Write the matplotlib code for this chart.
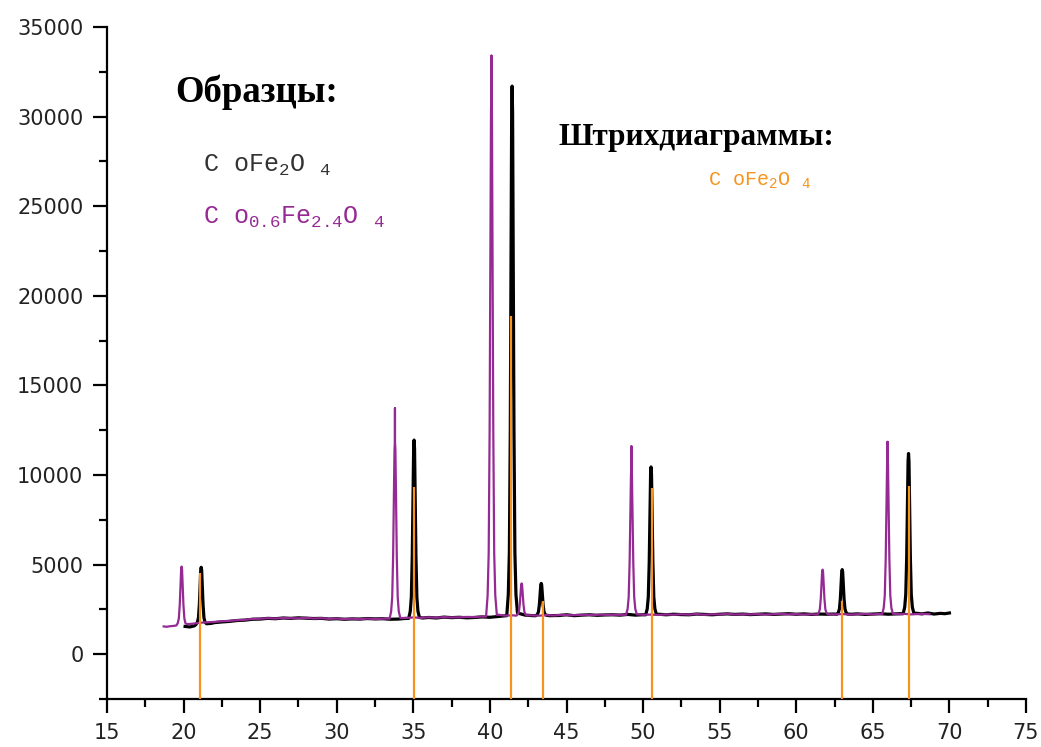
import numpy as np
import matplotlib
matplotlib.use('Agg')
import matplotlib.pyplot as plt

plt.rcParams['mathtext.default'] = 'regular'

# CoFe2O4 sample (black)
cofe_x = [20.1, 20.4, 20.7,
          20.8, 20.9, 20.97, 21.03, 21.08, 21.12, 21.15, 21.18, 21.22, 21.27, 21.33, 21.4, 21.5,
          21.8, 22.0, 22.5, 23.0, 23.5, 24.0, 24.5, 25.0, 25.5, 26.0, 26.5, 27.0, 27.5,
          28.0, 28.5, 29.0, 29.5, 30.0, 30.5, 31.0, 31.5, 32.0, 32.5, 33.0, 33.5, 34.0, 34.4,
          34.7, 34.8, 34.87, 34.93, 34.98, 35.02, 35.05, 35.08, 35.12, 35.17, 35.23, 35.3, 35.4,
          35.6, 36.0, 36.5, 37.0, 37.5, 38.0, 38.5, 39.0, 39.5, 40.0, 40.5,
          41.1, 41.2, 41.27, 41.33, 41.38, 41.42, 41.45, 41.48, 41.52, 41.57, 41.63, 41.7, 41.8,
          42.3, 42.8,
          43.0, 43.1, 43.17, 43.23, 43.28, 43.32, 43.35, 43.38, 43.42, 43.47, 43.53, 43.6, 43.7,
          43.9, 44.5, 45.0, 45.5, 46.0, 46.5, 47.0, 47.5, 48.0, 48.5, 49.0, 49.5, 49.9,
          50.17, 50.27, 50.34, 50.4, 50.45, 50.49, 50.52, 50.55, 50.59, 50.64, 50.7, 50.77, 50.87,
          51.2, 51.5, 52.0, 52.5, 53.0, 53.5, 54.0, 54.5, 55.0, 55.5, 56.0, 56.5, 57.0,
          57.5, 58.0, 58.5, 59.0, 59.5, 60.0, 60.5, 61.0, 61.5, 62.0, 62.4,
          62.65, 62.75, 62.82, 62.88, 62.93, 62.97, 63.0, 63.03, 63.07, 63.12, 63.18, 63.25, 63.35,
          63.6, 64.0, 64.5, 65.0, 65.5, 66.0, 66.5, 66.8,
          66.98, 67.08, 67.15, 67.21, 67.26, 67.3, 67.33, 67.36, 67.4, 67.45, 67.51, 67.58, 67.68,
          67.9, 68.2, 68.6, 69.0, 69.4, 69.7, 70.0]
cofe_y = [1550, 1520, 1580,
          1650, 1780, 2030, 2770, 3890, 4690, 4850, 4690, 3890, 2770, 2030, 1780, 1700,
          1720, 1760, 1800, 1830, 1880, 1900, 1950, 1960, 2000, 1980, 2020, 2000, 2030,
          2010, 1990, 2000, 1960, 1980, 1950, 1970, 1960, 1990, 1970, 1980, 1950, 1960, 1990,
          2000, 2400, 3190, 5480, 8970, 11450, 11950, 11450, 8970, 5480, 3190, 2400, 2050,
          2020, 2050, 2020, 2070, 2040, 2060, 2030, 2050, 2080, 2060, 2100,
          2150, 3330, 5700, 12490, 22840, 30220, 31700, 30220, 22840, 12490, 5700, 3330, 2300,
          2180, 2150,
          2150, 2220, 2370, 2780, 3410, 3860, 3950, 3860, 3410, 2780, 2370, 2220, 2170,
          2150, 2160, 2200, 2150, 2180, 2200, 2170, 2190, 2200, 2180, 2220, 2180, 2200,
          2200, 2530, 3190, 5090, 7980, 10040, 10450, 10040, 7980, 5090, 3190, 2530, 2230,
          2220, 2200, 2230, 2210, 2200, 2240, 2220, 2200, 2230, 2250, 2220, 2240, 2210,
          2230, 2250, 2220, 2240, 2260, 2230, 2250, 2220, 2240, 2230, 2240,
          2230, 2330, 2530, 3100, 3970, 4600, 4720, 4600, 3970, 3100, 2530, 2330, 2240,
          2230, 2250, 2220, 2240, 2260, 2230, 2250, 2260,
          2260, 2620, 3330, 5390, 8520, 10750, 11200, 10750, 8520, 5390, 3330, 2620, 2290,
          2280, 2250, 2300, 2240, 2280, 2260, 2300]

# Co0.6Fe2.4O4 sample (purple)
co06_x = [18.7, 18.9, 19.1, 19.35,
          19.52, 19.62, 19.69, 19.75, 19.8, 19.84, 19.87, 19.9, 19.94, 19.99, 20.05, 20.12, 20.22,
          20.6, 21.0, 21.5, 22.0, 22.5, 23.0, 23.5, 24.0, 24.5, 25.0, 25.5, 26.0, 26.5,
          27.0, 27.5, 28.0, 28.5, 29.0, 29.5, 30.0, 30.5, 31.0, 31.5, 32.0, 32.5, 33.0, 33.3,
          33.45, 33.55, 33.62, 33.68, 33.73, 33.77, 33.8, 33.8, 33.8, 33.83, 33.87, 33.92, 33.98,
          34.05, 34.15,
          34.5, 35.0, 35.5, 36.0, 36.5, 37.0, 37.5, 38.0, 38.5, 39.0, 39.4,
          39.75, 39.85, 39.92, 39.98, 40.03, 40.07, 40.1, 40.1, 40.1, 40.13, 40.17, 40.22, 40.28,
          40.35, 40.45,
          40.6, 41.0, 41.5,
          41.72, 41.82, 41.89, 41.95, 42.0, 42.04, 42.07, 42.1, 42.14, 42.19, 42.25, 42.32, 42.42,
          42.7, 43.2, 43.7, 44.2, 44.7, 45.2, 45.7, 46.2, 46.7, 47.2, 47.7, 48.2, 48.6,
          48.89, 48.99, 49.06, 49.12, 49.17, 49.21, 49.24, 49.24, 49.24, 49.27, 49.31, 49.36, 49.42,
          49.49, 49.59,
          50.0, 50.5, 51.0, 51.5, 52.0, 52.5, 53.0, 53.5, 54.0, 54.5, 55.0, 55.5, 56.0,
          56.5, 57.0, 57.5, 58.0, 58.5, 59.0, 59.5, 60.0, 60.5, 61.0,
          61.37, 61.47, 61.54, 61.6, 61.65, 61.69, 61.72, 61.75, 61.79, 61.84, 61.9, 61.97, 62.07,
          62.5, 63.0, 63.5, 64.0, 64.5, 65.0, 65.3,
          65.61, 65.71, 65.78, 65.84, 65.89, 65.93, 65.96, 65.96, 65.96, 65.99, 66.03, 66.08, 66.14,
          66.21, 66.31,
          66.7, 67.1, 67.5, 67.9, 68.3, 68.7]
co06_y = [1550, 1530, 1560, 1580,
          1600, 1730, 2000, 2750, 3900, 4730, 4890, 4730, 3900, 2750, 2000, 1730, 1680,
          1700, 1750, 1780, 1800, 1840, 1860, 1900, 1920, 1970, 1980, 2010, 1990, 2020,
          2010, 2000, 2030, 1990, 2010, 1970, 1990, 1960, 1980, 1950, 1990, 1960, 1980, 1990,
          1980, 2380, 3170, 5450, 8920, 11400, 11900, 13720, 11900, 11400, 8920, 5450, 3170,
          2380, 2020,
          2020, 2050, 2030, 2060, 2040, 2070, 2050, 2060, 2080, 2070, 2100,
          2100, 3280, 5650, 12460, 22820, 30220, 31700, 33400, 31700, 30220, 22820, 12460, 5650,
          3280, 2200,
          2200, 2150, 2170,
          2150, 2220, 2370, 2780, 3410, 3860, 3950, 3860, 3410, 2780, 2370, 2220, 2170,
          2170, 2150, 2180, 2160, 2200, 2170, 2190, 2200, 2180, 2210, 2190, 2200, 2200,
          2200, 2530, 3190, 5090, 7980, 10040, 10450, 11600, 10450, 10040, 7980, 5090, 3190,
          2530, 2230,
          2200, 2210, 2190, 2220, 2200, 2230, 2210, 2240, 2200, 2230, 2220, 2260, 2210,
          2230, 2220, 2240, 2210, 2230, 2250, 2220, 2240, 2210, 2230,
          2210, 2310, 2510, 3090, 3970, 4600, 4720, 4600, 3970, 3090, 2510, 2310, 2230,
          2220, 2240, 2210, 2230, 2250, 2220, 2240,
          2230, 2580, 3280, 5300, 8370, 10560, 11000, 11850, 11000, 10560, 8370, 5300, 3280,
          2580, 2260,
          2230, 2250, 2220, 2240, 2250, 2230]

# reference stick diagram CoFe2O4 (orange)
stick_x = [21.1, 35.05, 41.4, 43.47, 50.6, 62.98, 67.33]
stick_h = [4550, 9350, 18850, 2950, 9300, 2980, 9400]

fig = plt.figure(figsize=(10.41, 7.47), dpi=100)
ax = fig.add_axes([107 / 1041, 48 / 747, 919 / 1041, 672 / 747])

ax.plot(cofe_x, cofe_y, color='black', lw=2.3, zorder=2)
ax.plot(co06_x, co06_y, color='#962a94', lw=1.6, zorder=3)
ax.vlines(stick_x, -2500, stick_h, color='#f7931e', lw=1.6, zorder=4)

ax.set_xlim(15, 75)
ax.set_ylim(-2500, 35000)
ax.set_xticks(np.arange(15, 76, 5))
ax.set_xticks(np.arange(17.5, 75, 5), minor=True)
ax.set_yticks(np.arange(0, 35001, 5000))
ax.set_yticks(np.arange(-2500, 35000, 5000), minor=True)

for s in ['top', 'right']:
    ax.spines[s].set_visible(False)
for s in ['left', 'bottom']:
    ax.spines[s].set_linewidth(1.6)
ax.tick_params(which='major', direction='out', length=10, width=1.6,
               labelsize=15, labelcolor='#222222', pad=7)
ax.tick_params(which='minor', direction='out', length=6, width=1.6)

# legend texts
ax.text(0.074, 0.903, 'Образцы:', transform=ax.transAxes,
        fontfamily='Liberation Serif', fontweight='bold', fontsize=26.5,
        va='center', ha='left', color='black')
ax.text(0.105, 0.794, 'C oFe$_2$O $_4$', transform=ax.transAxes,
        fontfamily='Liberation Mono', fontsize=18, va='center', ha='left',
        color='#333333')
ax.text(0.105, 0.717, 'C o$_{0.6}$Fe$_{2.4}$O $_4$', transform=ax.transAxes,
        fontfamily='Liberation Mono', fontsize=18, va='center', ha='left',
        color='#962a94')
ax.text(0.491, 0.836, 'Штрихдиаграммы:', transform=ax.transAxes,
        fontfamily='Liberation Serif', fontweight='bold', fontsize=22.5,
        va='center', ha='left', color='black')
ax.text(0.654, 0.771, 'C oFe$_2$O $_4$', transform=ax.transAxes,
        fontfamily='Liberation Mono', fontsize=14.5, va='center', ha='left',
        color='#f7931e')

fig.savefig('out.png', dpi=100)
